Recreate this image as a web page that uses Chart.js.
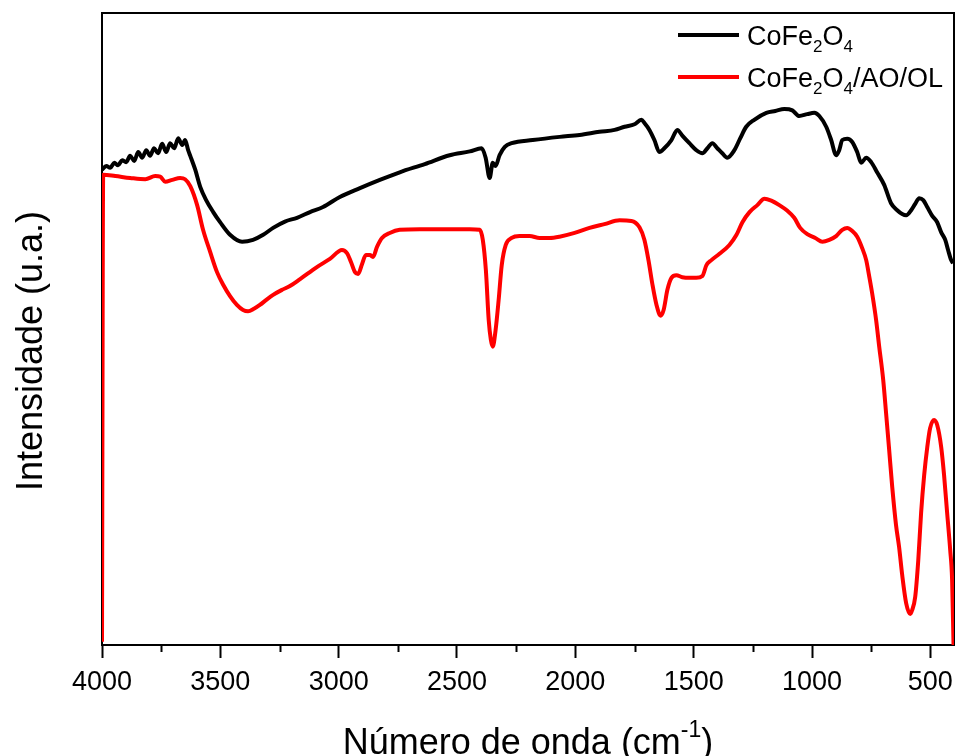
<!DOCTYPE html>
<html><head><meta charset="utf-8">
<script src="https://cdn.jsdelivr.net/npm/chart.js@4/dist/chart.umd.min.js"></script>
<style>html,body{margin:0;padding:0;background:#fff;}#wrap{width:955px;height:756px;}</style>
</head><body><div id="wrap"><canvas id="c" width="955" height="756"></canvas></div>
<script>
// ---- data (wavenumber in cm-1, intensity in arbitrary units 0-100) ----
const cofeWavenumber = [4000,3982,3965,3948,3932,3915,3898,3881,3864,3847,3830,3813,3797,3780,3763,3746,3729,3712,3695,3678,3661,3649,3636,3627,3606,3585,3560,3530,3501,3459,3408,3362,3319,3277,3227,3176,3121,3066,2995,2910,2826,2742,2636,2531,2446,2396,2379,2362,2349,2337,2320,2298,2269,2180,2066,1982,1898,1834,1792,1750,1721,1708,1687,1666,1645,1624,1594,1569,1548,1518,1489,1463,1442,1421,1400,1379,1358,1328,1303,1278,1244,1193,1155,1117,1083,1054,1020,990,969,940,919,898,885,872,851,830,809,792,771,750,725,695,666,640,619,602,581,564,547,530,513,492,471,454,437,425,412,404];
const cofeIntensity = [75.2,75.8,75.5,76.3,75.9,76.7,76.4,77.4,76.6,78.0,77.1,78.3,77.4,78.6,77.8,79.3,78.0,79.4,78.6,80.2,79.1,79.9,78.3,77.4,75.2,72.5,70.4,68.5,66.9,64.9,63.8,64.1,64.9,66.0,67.0,67.6,68.5,69.3,70.9,72.3,73.6,74.8,76.1,77.5,78.1,78.6,77.1,73.9,76.3,75.8,77.5,78.8,79.4,79.9,80.4,80.7,81.2,81.5,82.0,82.4,83.1,82.6,81.5,79.9,78.0,78.6,79.9,81.5,80.6,79.4,78.3,77.8,78.6,79.4,78.6,77.8,77.1,78.3,80.2,82.0,83.1,84.2,84.5,84.8,84.6,83.7,84.0,84.2,83.7,82.0,79.9,77.5,78.3,79.9,80.1,79.6,78.0,76.3,77.1,76.4,74.8,72.8,69.9,68.8,68.2,68.0,68.8,69.8,70.7,70.4,69.3,67.9,66.9,65.3,64.1,62.5,60.9,60.4];

const coatedWavenumber = [4000,3995,3944,3881,3817,3775,3754,3733,3703,3670,3649,3627,3598,3573,3543,3514,3488,3459,3430,3404,3383,3358,3333,3303,3277,3239,3206,3163,3092,3037,2986,2965,2948,2931,2918,2901,2885,2868,2855,2838,2817,2784,2742,2657,2531,2446,2404,2391,2378,2366,2357,2349,2337,2324,2311,2294,2269,2236,2193,2151,2109,2067,2003,1940,1877,1813,1763,1729,1708,1691,1674,1657,1640,1627,1611,1594,1573,1548,1518,1489,1463,1446,1425,1391,1349,1319,1294,1264,1231,1201,1172,1138,1104,1075,1050,1020,986,956,927,898,872,851,830,809,788,771,759,746,729,716,699,687,674,661,645,632,619,602,585,577,564,551,539,526,513,501,484,471,454,442,429,416,408,402];
const coatedIntensity = [0.5,74.4,74.2,73.9,73.7,74.2,74.1,73.3,73.6,73.9,73.7,72.6,69.6,65.7,62.2,59.0,57.0,55.2,53.8,53.0,52.8,53.2,53.8,54.7,55.4,56.2,56.8,57.9,59.8,61.1,62.5,62.0,60.6,59.0,58.7,60.3,61.7,61.7,61.4,63.0,64.4,65.2,65.7,65.8,65.8,65.8,65.7,64.1,59.3,51.4,48.3,47.2,49.8,54.6,60.1,63.3,64.4,64.7,64.7,64.4,64.4,64.6,65.2,66.0,66.6,67.2,67.1,66.1,64.1,60.9,57.0,53.8,52.1,53.0,56.2,58.1,58.5,58.2,58.1,58.1,58.4,60.1,60.9,61.9,63.3,64.9,66.9,68.5,69.6,70.6,70.3,69.6,68.7,67.6,66.0,65.0,64.4,63.8,64.1,64.7,65.7,66.0,65.5,64.6,62.8,60.9,58.5,55.7,51.4,47.2,41.9,36.7,30.9,25.0,19.0,15.5,11.1,6.6,4.9,5.5,7.6,13.4,20.9,26.9,31.3,34.3,35.6,34.8,31.3,26.9,20.9,15.0,10.3,0];

const seriesLabels = ['CoFe2O4', 'CoFe2O4/AO/OL'];
// legend text split into [text, isSubscript] runs
const legendRuns = [
  [['CoFe',0],['2',1],['O',0],['4',1]],
  [['CoFe',0],['2',1],['O',0],['4',1],['/AO/OL',0]]
];
const seriesColors = ['#000000', '#ff0000'];
const majorTicks = [500,1000,1500,2000,2500,3000,3500,4000];
const minorTicks = [750,1250,1750,2250,2750,3250,3750];
const xTitleRuns = [['Número de onda (cm',0],['-1',1],[')',0]];
const yTitle = 'Intensidade (u.a.)';

const FONT = '"Liberation Sans", Arial, Helvetica, sans-serif';

const toPoints = (xs, ys) => xs.map((x, i) => ({x: x, y: ys[i]}));

const decorPlugin = {
  id: 'decor',
  beforeDatasetsDraw(chart) {
    const {ctx, chartArea: a} = chart;
    ctx.save();
    ctx.strokeStyle = '#000';
    ctx.lineWidth = 2;
    ctx.beginPath();
    ctx.moveTo(a.left, a.top); ctx.lineTo(a.right, a.top); ctx.lineTo(a.right, a.bottom);
    ctx.stroke();
    // minor ticks
    const xs = chart.scales.x;
    ctx.lineWidth = 2;
    minorTicks.forEach(v => {
      const px = Math.round(xs.getPixelForValue(v)) + 0.5;
      ctx.beginPath(); ctx.moveTo(px, a.bottom); ctx.lineTo(px, a.bottom + 7); ctx.stroke();
    });
    ctx.restore();
  },
  afterDraw(chart) {
    const {ctx, chartArea: a} = chart;
    ctx.save();
    ctx.fillStyle = '#000';
    ctx.textBaseline = 'alphabetic';
    ctx.textAlign = 'left';
    // x title with superscript
    const mainF = '36px ' + FONT, supF = '23px ' + FONT;
    let total = 0;
    xTitleRuns.forEach(r => { ctx.font = r[1] ? supF : mainF; total += ctx.measureText(r[0]).width; });
    let x = (a.left + a.right) / 2 - total / 2;
    const base = 754;
    xTitleRuns.forEach(r => {
      ctx.font = r[1] ? supF : mainF;
      ctx.fillText(r[0], x, r[1] ? base - 17 : base);
      x += ctx.measureText(r[0]).width;
    });
    // y title (rotated)
    ctx.save();
    ctx.translate(42, 351);
    ctx.rotate(-Math.PI / 2);
    ctx.font = '36px ' + FONT;
    ctx.textAlign = 'center';
    ctx.fillText(yTitle, 0, 0);
    ctx.restore();
    // legend
    const rows = [{y: 35, base: 45}, {y: 77, base: 87}];
    legendRuns.forEach((runs, i) => {
      ctx.strokeStyle = seriesColors[i];
      ctx.lineWidth = 4;
      ctx.beginPath(); ctx.moveTo(678, rows[i].y); ctx.lineTo(739, rows[i].y); ctx.stroke();
      let lx = 747;
      runs.forEach(r => {
        ctx.font = (r[1] ? '17px ' : '27px ') + FONT;
        ctx.fillText(r[0], lx, r[1] ? rows[i].base + 7 : rows[i].base);
        lx += ctx.measureText(r[0]).width;
      });
    });
    ctx.restore();
  }
};

new Chart(document.getElementById('c'), {
  type: 'line',
  data: {
    datasets: [
      {label: seriesLabels[0], data: toPoints(cofeWavenumber, cofeIntensity), borderColor: seriesColors[0], borderWidth: 4, pointRadius: 0, fill: false, cubicInterpolationMode: 'monotone'},
      {label: seriesLabels[1], data: toPoints(coatedWavenumber, coatedIntensity), borderColor: seriesColors[1], borderWidth: 4, pointRadius: 0, fill: false, cubicInterpolationMode: 'monotone'}
    ]
  },
  options: {
    responsive: false,
    animation: false,
    devicePixelRatio: 1,
    layout: {padding: {left: 0, top: 13, right: 1, bottom: 0}},
    plugins: {legend: {display: false}, tooltip: {enabled: false}},
    scales: {
      x: {
        type: 'linear', reverse: true, min: 400, max: 4000,
        afterBuildTicks: s => { s.ticks = majorTicks.map(v => ({value: v})); },
        afterFit: s => { s.height = 111; },
        grid: {display: true, drawOnChartArea: false, drawTicks: true, tickLength: 13, tickWidth: 2, tickColor: '#000'},
        border: {display: true, color: '#000', width: 2},
        ticks: {color: '#000', font: {family: FONT, size: 27}, padding: 8, maxRotation: 0, autoSkip: false, callback: v => String(v)}
      },
      y: {
        type: 'linear', min: 0, max: 100,
        afterFit: s => { s.width = 102; },
        grid: {display: false},
        border: {display: true, color: '#000', width: 2},
        ticks: {display: false},
        title: {display: false, text: yTitle}
      }
    }
  },
  plugins: [decorPlugin]
});
</script></body></html>
